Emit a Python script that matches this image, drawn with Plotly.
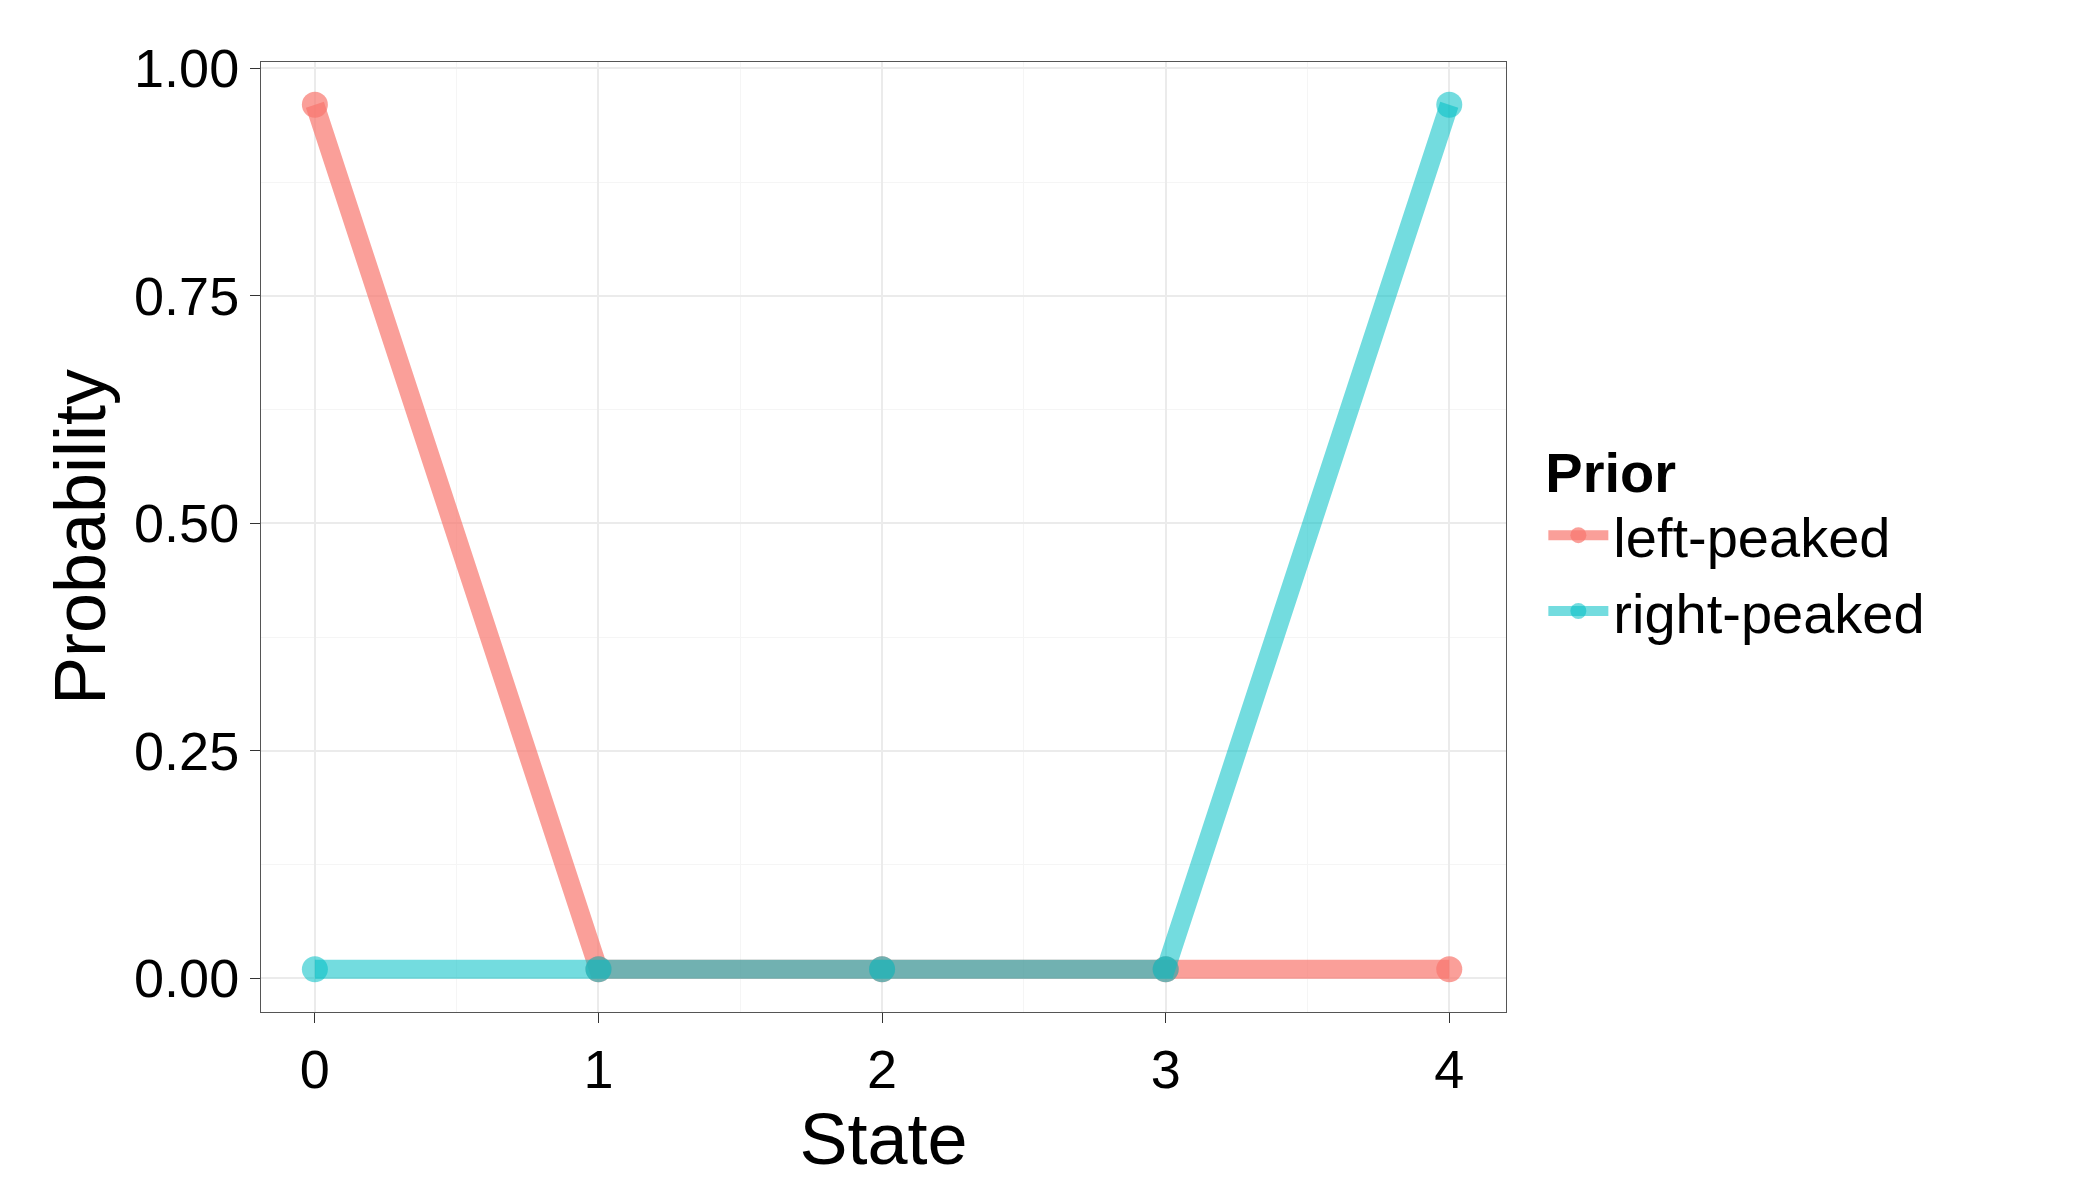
import plotly.graph_objects as go

states = [0, 1, 2, 3, 4]
left_peaked = [0.96, 0.01, 0.01, 0.01, 0.01]
right_peaked = [0.01, 0.01, 0.01, 0.01, 0.96]

series = [
    ("left-peaked", left_peaked, "rgba(248,118,109,0.7)"),
    ("right-peaked", right_peaked, "rgba(0,191,196,0.55)"),
]

fig = go.Figure()
for name, vals, col in series:
    fig.add_trace(go.Scatter(
        x=states, y=vals, name=name, mode="lines+markers",
        line=dict(color=col, width=19),
        marker=dict(color=col, size=26),
    ))

grid = "#ebebeb"
fig.update_layout(
    width=2100, height=1200,
    paper_bgcolor="white", plot_bgcolor="white",
    font=dict(family="Liberation Sans, Arial, sans-serif", color="black", size=54),
    margin=dict(l=253, r=602, t=54, b=196, autoexpand=False),
    legend=dict(
        title=dict(text="<b>Prior</b>", font=dict(size=56)),
        x=1.03, xanchor="left", y=0.5, yanchor="middle",
        font=dict(size=56), itemwidth=60,
    ),
    xaxis=dict(
        range=[-0.19, 4.2], tickvals=states, ticks="outside", ticklen=10,
        tickcolor="#333", tickfont=dict(size=54), automargin=False,
        title=dict(text="State", font=dict(size=72), standoff=4),
        showgrid=True, gridcolor=grid, gridwidth=2,
        minor=dict(dtick=0.5, showgrid=True, gridcolor="#f5f5f5", gridwidth=1),
        showline=True, linecolor="#555", mirror=True, zeroline=False,
    ),
    yaxis=dict(
        range=[-0.037, 1.007], tickvals=[0, 0.25, 0.5, 0.75, 1.0],
        ticktext=["0.00", "0.25", "0.50", "0.75", "1.00"],
        ticks="outside", ticklen=10, tickcolor="#333", tickfont=dict(size=54),
        automargin=False,
        title=dict(text="Probability", font=dict(size=72), standoff=4),
        showgrid=True, gridcolor=grid, gridwidth=2,
        minor=dict(dtick=0.125, showgrid=True, gridcolor="#f5f5f5", gridwidth=1),
        showline=True, linecolor="#555", mirror=True, zeroline=False,
    ),
)

fig.write_html("out.html")
